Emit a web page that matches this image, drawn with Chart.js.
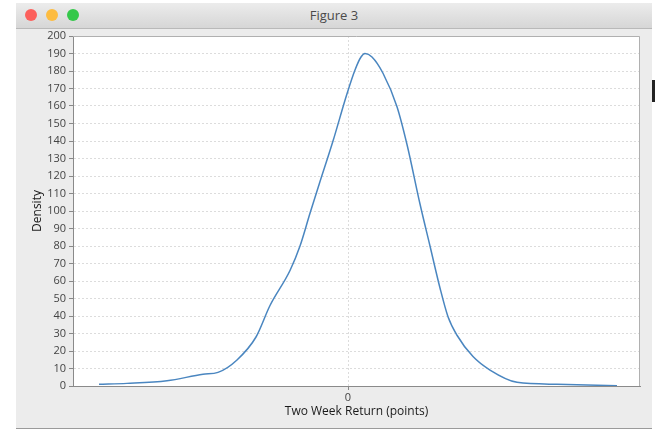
<!DOCTYPE html>
<html lang="en">
  <head>
    <meta charset="UTF-8" />
    <title>Figure 3</title>
    <script src="https://cdn.jsdelivr.net/npm/chart.js"></script>
    <style>
      body {
        margin: 0;
        width: 660px;
        height: 432px;
        overflow: hidden;
        background: #ffffff;
        font-family: "Open Sans", sans-serif;
      }

      .window {
        position: absolute;
        left: 16px;
        top: 3px;
        width: 636px;
        height: 425px;
        background: #ececec;
        border-bottom: 1px solid #9a9a9a;
      }

      .titlebar {
        height: 25px;
        background: linear-gradient(#ececec, #d6d6d6);
        border-bottom: 1px solid #b9b9b9;
        text-align: center;
        font-size: 13px;
        line-height: 25px;
        color: #4a4a4a;
        position: relative;
      }

      .dot {
        position: absolute;
        top: 6px;
        width: 12px;
        height: 12px;
        border-radius: 50%;
      }

      .side-mark {
        position: absolute;
        left: 652px;
        top: 80px;
        width: 3px;
        height: 22px;
        background: #222;
      }

      .chart-box {
        position: absolute;
        left: 0;
        top: 0;
        width: 660px;
        height: 432px;
      }
    </style>
  </head>

  <body>
    <div class="window">
      <div class="titlebar">
        <span class="dot" style="left: 9px; background: #fc605c"></span>
        <span class="dot" style="left: 30px; background: #fdbc40"></span>
        <span class="dot" style="left: 51px; background: #34c84a"></span>
        Figure 3
      </div>
    </div>
    <div class="side-mark"></div>

    <div class="chart-box">
      <canvas id="densityChart"></canvas>
    </div>

    <script>
      // return in points (x) and estimated density (y)
      const returns = [
        -24.9, -22.1, -18.1, -14.5, -13.0, -11.1, -9.2, -7.8, -5.8, -4.8,
        -3.8, -2.9, -1.5, -0.1, 0.7, 1.3, 1.7, 2.4, 3.5, 4.9, 5.9, 7.2, 8.2,
        9.2, 10.0, 10.9, 12.5, 14.2, 16.9, 20.9, 26.9,
      ];
      const density = [
        1.0, 1.5, 3.0, 6.7, 7.8, 14.9, 28, 46, 66, 80, 98.7, 115, 140, 167,
        180.6, 188, 190, 188, 178.7, 159.6, 138, 104, 80, 56, 39.6, 29, 16.8,
        9.1, 2.1, 1.0, 0.2,
      ];
      const xTicks = [0];

      const points = returns.map((x, i) => ({ x: x, y: density[i] }));

      // white plot area with a thin frame
      const plotFrame = {
        id: "plotFrame",
        beforeDraw(chart) {
          const a = chart.chartArea;
          const ctx = chart.ctx;
          ctx.save();
          ctx.fillStyle = "#ffffff";
          ctx.fillRect(a.left, a.top, a.right - a.left, a.bottom - a.top);
          ctx.restore();
        },
        afterDraw(chart) {
          const a = chart.chartArea;
          const ctx = chart.ctx;
          ctx.save();
          ctx.strokeStyle = "#b0b0b0";
          ctx.lineWidth = 1;
          ctx.beginPath();
          ctx.moveTo(a.left, a.top + 0.5);
          ctx.lineTo(a.right - 0.5, a.top + 0.5);
          ctx.lineTo(a.right - 0.5, a.bottom);
          ctx.stroke();
          ctx.restore();
        },
      };

      new Chart(document.getElementById("densityChart"), {
        type: "line",
        data: {
          datasets: [
            {
              data: points,
              borderColor: "#4a86c0",
              borderWidth: 1.5,
              pointRadius: 0,
              fill: false,
              cubicInterpolationMode: "monotone",
            },
          ],
        },
        options: {
          responsive: true,
          maintainAspectRatio: false,
          animation: false,
          layout: {
            padding: { left: 0, top: 36, right: 20, bottom: 0 },
          },
          plugins: {
            legend: { display: false },
            tooltip: { enabled: false },
          },
          scales: {
            x: {
              type: "linear",
              min: -27.5,
              max: 29.2,
              afterBuildTicks(scale) {
                scale.ticks = xTicks.map((v) => ({ value: v }));
              },
              afterFit(scale) {
                scale.height = 46;
              },
              grid: {
                color: "#dcdcdc",
                tickColor: "#888888",
                tickLength: 4,
                tickBorderDash: [],
              },
              border: { color: "#8a8a8a", dash: [2, 2] },
              ticks: {
                color: "#444444",
                padding: 1,
                font: { family: "Open Sans", size: 11 },
              },
              title: {
                display: true,
                text: "Two Week Return (points)",
                color: "#1a1a1a",
                padding: { top: 0, bottom: 13 },
                font: { family: "Open Sans", size: 12 },
              },
            },
            y: {
              min: 0,
              max: 200,
              afterFit(scale) {
                scale.width = 73;
              },
              grid: {
                color: "#dcdcdc",
                tickColor: "#888888",
                tickLength: 4,
                tickBorderDash: [],
              },
              border: { color: "#8a8a8a", dash: [2, 2] },
              ticks: {
                stepSize: 10,
                color: "#444444",
                padding: 3,
                font: { family: "Open Sans", size: 11 },
              },
              title: {
                display: true,
                text: "Density",
                color: "#1a1a1a",
                padding: { top: 30, bottom: 0 },
                font: { family: "Open Sans", size: 12, weight: "500" },
              },
            },
          },
        },
        plugins: [plotFrame],
      });
    </script>
  </body>
</html>
